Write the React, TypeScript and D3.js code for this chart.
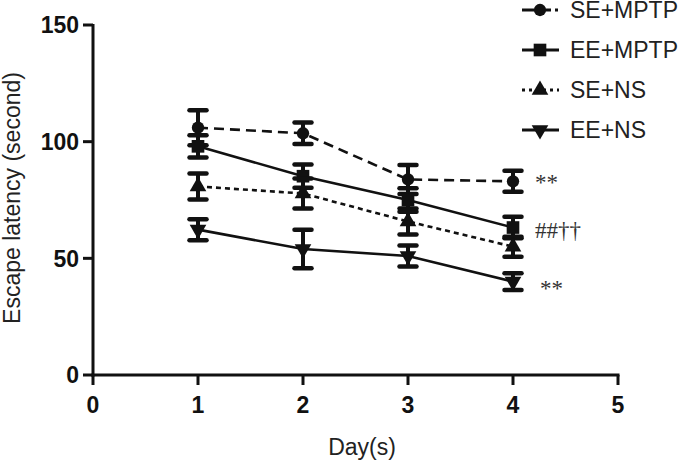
import React from "react";
import * as d3 from "d3";

const days = [1, 2, 3, 4];
const seriesNames = ["SE+MPTP", "EE+MPTP", "SE+NS", "EE+NS"];
const seMptp = [106, 103.6, 83.8, 83];
const seMptpErr = [7.5, 4.6, 6.2, 4.5];
const eeMptp = [98, 85.2, 75, 63.2];
const eeMptpErr = [4.8, 5, 5, 4.6];
const seNs = [80.8, 77.8, 65.8, 55];
const seNsErr = [5.6, 6.4, 5.6, 4.3];
const eeNs = [62.3, 54, 51, 40];
const eeNsErr = [4.5, 8.2, 4.5, 3.6];
const xTicks = [0, 1, 2, 3, 4, 5];
const yTicks = [0, 50, 100, 150];
// annotation text, day, and value at the text baseline
const annotations = [
  { text: "**", day: 4, value: 79.5 },
  { text: "##††", day: 4, value: 58.8 },
  { text: "**", day: 4, value: 34 },
];

const seriesData = [
  { name: seriesNames[0], values: seMptp, errs: seMptpErr, symbol: d3.symbolCircle, size: 120, dash: "10,6", rot: 0 },
  { name: seriesNames[1], values: eeMptp, errs: eeMptpErr, symbol: d3.symbolSquare, size: 160, dash: "", rot: 0 },
  { name: seriesNames[2], values: seNs, errs: seNsErr, symbol: d3.symbolTriangle, size: 120, dash: "5,4", rot: 0 },
  { name: seriesNames[3], values: eeNs, errs: eeNsErr, symbol: d3.symbolTriangle, size: 120, dash: "", rot: 180 },
];

export default function App() {
  const W = 679, H = 462;
  const x = d3.scaleLinear().domain([0, 5]).range([93, 618]);
  const y = d3.scaleLinear().domain([0, 150]).range([375, 25]);
  const line = d3.line<number>().x((_, i) => x(days[i])).y((v) => y(v));
  const fontSans = "'Liberation Sans', Arial, Helvetica, sans-serif";
  const annDx = [22, 22, 27];
  return (
    <svg width={W} height={H} style={{ position: "absolute", left: 0, top: 0, background: "#fff" }}>
      <rect width={W} height={H} fill="#fff" />
      {/* axes */}
      <line x1={x(0)} x2={x(0)} y1={y(150) - 1} y2={y(0) + 1.5} stroke="#111" strokeWidth={3} />
      <line x1={x(0) - 1.5} x2={x(5) + 1.5} y1={y(0)} y2={y(0)} stroke="#111" strokeWidth={3} />
      {yTicks.map((t) => (
        <g key={"y" + t}>
          <line x1={x(0) - 10} x2={x(0)} y1={y(t)} y2={y(t)} stroke="#111" strokeWidth={3} />
          <text x={x(0) - 14} y={y(t)} dy="0.36em" textAnchor="end" fontFamily={fontSans} fontWeight="bold" fontSize={23} fill="#111">{t}</text>
        </g>
      ))}
      {xTicks.map((t) => (
        <g key={"x" + t}>
          <line x1={x(t)} x2={x(t)} y1={y(0)} y2={y(0) + 10} stroke="#111" strokeWidth={3} />
          <text x={x(t)} y={413} textAnchor="middle" fontFamily={fontSans} fontWeight="bold" fontSize={23} fill="#111">{t}</text>
        </g>
      ))}
      <text transform={`translate(20,${198}) rotate(-90)`} textAnchor="middle" fontFamily={fontSans} fontSize={23} fill="#222">Escape latency (second)</text>
      <text x={362} y={455} textAnchor="middle" fontFamily={fontSans} fontSize={23} fill="#222">Day(s)</text>
      {/* series */}
      {seriesData.map((s) => (
        <g key={s.name}>
          <path d={line(s.values) || ""} fill="none" stroke="#111" strokeWidth={2.6} strokeDasharray={s.dash || undefined} />
          {s.values.map((v, i) => (
            <g key={i}>
              <line x1={x(days[i])} x2={x(days[i])} y1={y(v + s.errs[i])} y2={y(v - s.errs[i])} stroke="#111" strokeWidth={4} />
              <line x1={x(days[i]) - 8.5} x2={x(days[i]) + 8.5} y1={y(v + s.errs[i])} y2={y(v + s.errs[i])} stroke="#111" strokeWidth={4.5} strokeLinecap="round" />
              <line x1={x(days[i]) - 8.5} x2={x(days[i]) + 8.5} y1={y(v - s.errs[i])} y2={y(v - s.errs[i])} stroke="#111" strokeWidth={4.5} strokeLinecap="round" />
              <path d={d3.symbol().type(s.symbol).size(s.size)() || ""} transform={`translate(${x(days[i])},${y(v)}) rotate(${s.rot})`} fill="#111" />
            </g>
          ))}
        </g>
      ))}
      {/* annotations */}
      {annotations.map((a, i) => (
        <text key={i} x={x(a.day) + annDx[i]} y={y(a.value)} fontFamily="'Liberation Serif', 'Times New Roman', serif" fontSize={23} fill="#333">{a.text}</text>
      ))}
      {/* legend */}
      {seriesData.map((s, i) => {
        const ly = 10 + i * 40;
        return (
          <g key={"lg" + s.name}>
            <line x1={522} x2={559} y1={ly} y2={ly} stroke="#111" strokeWidth={3} strokeDasharray={s.dash ? (i === 0 ? "12,12,5,4,3,10" : "3,4") : undefined} />
            <path d={d3.symbol().type(s.symbol).size(s.size)() || ""} transform={`translate(540,${ly}) rotate(${s.rot})`} fill="#111" />
            <text x={570} y={ly} dy="0.36em" fontFamily={fontSans} fontSize={23} fill="#222">{s.name}</text>
          </g>
        );
      })}
    </svg>
  );
}
